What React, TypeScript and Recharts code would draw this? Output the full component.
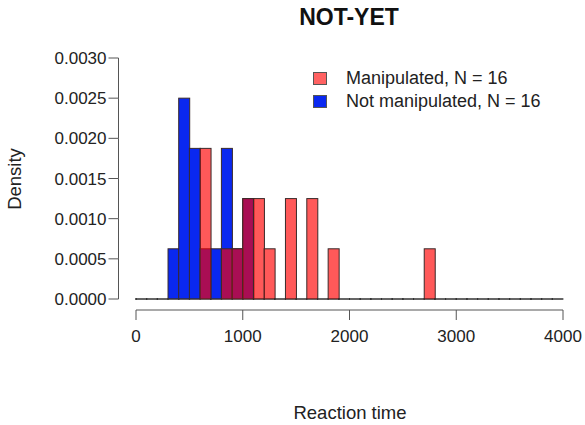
import { ComposedChart, Bar, XAxis, YAxis, Legend } from "recharts";

// histogram bins of width 100, 0..4000
const binStarts = [
  0, 100, 200, 300, 400, 500, 600, 700, 800, 900,
  1000, 1100, 1200, 1300, 1400, 1500, 1600, 1700, 1800, 1900,
  2000, 2100, 2200, 2300, 2400, 2500, 2600, 2700, 2800, 2900,
  3000, 3100, 3200, 3300, 3400, 3500, 3600, 3700, 3800, 3900,
];

// counts per bin
const manipulatedCounts = [
  0, 0, 0, 0, 0, 0, 3, 0, 1, 1,
  2, 2, 1, 0, 2, 0, 2, 0, 1, 0,
  0, 0, 0, 0, 0, 0, 0, 1, 0, 0,
  0, 0, 0, 0, 0, 0, 0, 0, 0, 0,
];
const notManipulatedCounts = [
  0, 0, 0, 1, 4, 3, 1, 1, 3, 1,
  2, 0, 0, 0, 0, 0, 0, 0, 0, 0,
  0, 0, 0, 0, 0, 0, 0, 0, 0, 0,
  0, 0, 0, 0, 0, 0, 0, 0, 0, 0,
];

const N_MANIP = 16;
const N_NOT = 16;
const BIN_WIDTH = 100;

const xTicks = [0, 1000, 2000, 3000, 4000];
const yTicks = [0, 0.0005, 0.001, 0.0015, 0.002, 0.0025, 0.003];

const RED = "#ff0000";
const BLUE = "#0a28f0";
const FONT = "'Liberation Sans', Arial, sans-serif";
const TXT = "#222";
const AXIS = "#555";

const data = binStarts.map((s, i) => ({
  x: s + BIN_WIDTH / 2,
  manip: manipulatedCounts[i] / (N_MANIP * BIN_WIDTH),
  notManip: notManipulatedCounts[i] / (N_NOT * BIN_WIDTH),
}));

const HistBar = (props: any) => {
  const { x, y, width, height, fill, fillOpacity } = props;
  if (!height || height < 0.5) {
    const base = y + (height || 0);
    return (
      <path
        d={`M${x},${base - 1}V${base + 1}M${x},${base}H${x + width}`}
        stroke="#333"
        strokeWidth={1}
        fill="none"
      />
    );
  }
  return (
    <rect
      x={x}
      y={y}
      width={width}
      height={height}
      fill={fill}
      fillOpacity={fillOpacity}
      stroke="#3a2a2a"
      strokeWidth={1}
    />
  );
};

// R style axis: offset from the plot region
const YTick = (props: any) => {
  const { x, y, payload } = props;
  const ax = x + 12 - 17.5; // axis line position
  return (
    <g>
      <line x1={ax - 10} x2={ax} y1={y} y2={y} stroke={AXIS} />
      {payload.index > 0 || payload.value > 0 ? (
        <line x1={ax} x2={ax} y1={y} y2={y + 40.2} stroke={AXIS} />
      ) : null}
      <text
        x={ax - 12}
        y={y}
        dy="0.36em"
        textAnchor="end"
        fontSize={17}
        fontFamily={FONT}
        fill={TXT}
      >
        {payload.value.toFixed(4)}
      </text>
    </g>
  );
};

const XTick = (props: any) => {
  const { x, y, payload } = props;
  return (
    <text
      x={x}
      y={y + 25}
      dy="0.36em"
      textAnchor="middle"
      fontSize={17}
      fontFamily={FONT}
      fill={TXT}
    >
      {payload.value}
    </text>
  );
};

const LegendBox = () => (
  <div style={{ fontFamily: FONT, fontSize: 18, color: TXT, lineHeight: "23px" }}>
    {[
      { label: `Manipulated, N = ${N_MANIP}`, color: "#ff6262" },
      { label: `Not manipulated, N = ${N_NOT}`, color: BLUE },
    ].map((it) => (
      <div key={it.label} style={{ display: "flex", alignItems: "center" }}>
        <span
          style={{
            display: "inline-block",
            width: 12,
            height: 11,
            background: it.color,
            border: "1px solid #555",
            marginRight: 19,
          }}
        />
        <span style={{ whiteSpace: "nowrap" }}>{it.label}</span>
      </div>
    ))}
  </div>
);

export default function App() {
  return (
    <div
      style={{
        position: "absolute",
        left: 0,
        top: 0,
        width: 585,
        height: 425,
        background: "#fff",
        fontFamily: FONT,
      }}
    >
      <div
        style={{
          position: "absolute",
          left: 249,
          width: 200,
          top: 4,
          textAlign: "center",
          fontWeight: "bold",
          fontSize: 23,
          color: "#111",
        }}
      >
        NOT-YET
      </div>
      <div
        style={{
          position: "absolute",
          left: 250,
          width: 200,
          top: 402,
          textAlign: "center",
          fontSize: 18.5,
          color: TXT,
        }}
      >
        Reaction time
      </div>
      <div
        style={{
          position: "absolute",
          left: -85,
          top: 168,
          width: 200,
          textAlign: "center",
          fontSize: 18.5,
          color: TXT,
          transform: "rotate(-90deg)",
        }}
      >
        Density
      </div>
      <ComposedChart
        width={585}
        height={425}
        data={data}
        margin={{ top: 58, right: 22, bottom: 96, left: 76 }}
        barCategoryGap={0}
        barGap={0}
      >
        <XAxis
          xAxisId="a"
          dataKey="x"
          type="number"
          domain={[0, 4000]}
          ticks={xTicks}
          height={30}
          tickSize={10}
          tickMargin={2}
          axisLine={{ stroke: AXIS, transform: "translate(0 11)" }}
          tickLine={{ stroke: AXIS, transform: "translate(0 11)" }}
          tick={<XTick />}
        />
        <XAxis xAxisId="b" dataKey="x" type="number" domain={[0, 4000]} hide />
        <YAxis
          type="number"
          domain={[0, 0.003]}
          ticks={yTicks}
          width={60}
          tickSize={10}
          tickMargin={2}
          axisLine={false}
          tickLine={false}
          tick={<YTick />}
        />
        <Legend
          layout="horizontal"
          verticalAlign="middle"
          align="center"
          content={<LegendBox />}
          wrapperStyle={{ position: "absolute", left: 313, top: 67, width: 260 }}
        />
        <Bar
          xAxisId="b"
          dataKey="notManip"
          name={`Not manipulated, N = ${N_NOT}`}
          fill={BLUE}
          isAnimationActive={false}
          shape={HistBar}
        />
        <Bar
          xAxisId="a"
          dataKey="manip"
          name={`Manipulated, N = ${N_MANIP}`}
          fill={RED}
          fillOpacity={0.65}
          isAnimationActive={false}
          shape={HistBar}
        />
      </ComposedChart>
    </div>
  );
}
